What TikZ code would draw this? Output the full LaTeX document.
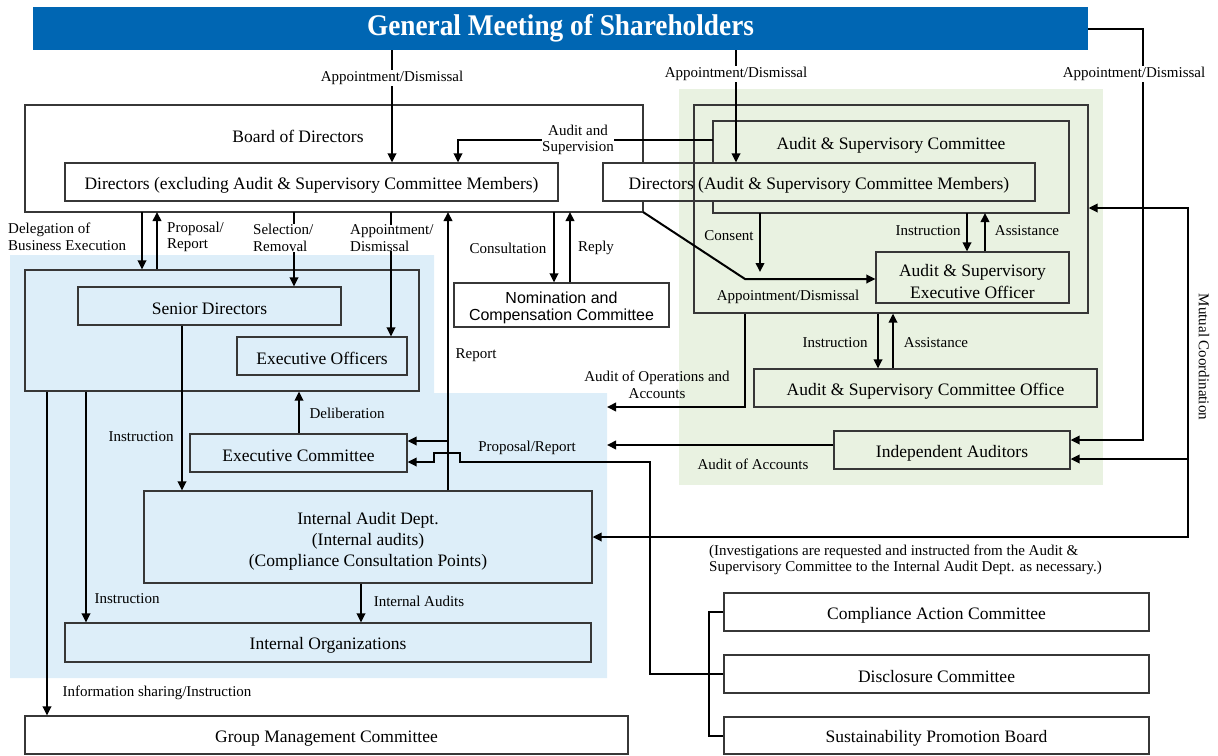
\documentclass[tikz,border=0pt]{standalone}
\usepackage{fontspec}
\setmainfont{Liberation Serif}
\newfontfamily\ncsans{Liberation Sans}
\usetikzlibrary{arrows.meta}
\definecolor{titleblue}{RGB}{0,102,179}
\definecolor{bgblue}{RGB}{221,238,249}
\definecolor{bggreen}{RGB}{233,242,225}
\definecolor{boxc}{RGB}{55,55,55}
\begin{document}
\begin{tikzpicture}[x=1pt,y=-1pt,
 box/.style={draw=boxc,line width=1.2pt,inner sep=0pt,font=\fontsize{17.5}{21}\selectfont,align=center,execute at begin node={\rule{0pt}{18pt}}},
 frame/.style={inner sep=0pt,outer sep=0pt},
 edge/.style={draw=boxc,line width=1.2pt},
 wire/.style={line width=2pt},
 conn/.style={line width=2pt,-{Triangle[length=9pt,width=8.5pt]}},
 bconn/.style={line width=2pt,{Triangle[length=9pt,width=8.5pt]}-{Triangle[length=9pt,width=8.5pt]}},
 lbl/.style={font=\fontsize{15}{16.5}\selectfont,inner sep=1.5pt,align=center},
 wlbl/.style={lbl,fill=white},
 btxt/.style={font=\fontsize{17.5}{21}\selectfont,align=center,inner sep=0pt},
]
\useasboundingbox (0,0) rectangle (1218,755);
% backgrounds
\fill[bggreen] (679,89) rectangle (1103,485);
\fill[bgblue] (10,255) -- (434,255) -- (434,393) -- (607,393) -- (607,678) -- (10,678) -- cycle;

% title
\node[fill=titleblue,minimum width=1055pt,minimum height=43pt,inner sep=0pt,text=white,font=\fontsize{30}{32}\selectfont\bfseries] (gm) at (560.5,28.5) {\scalebox{0.91}[1]{General Meeting of Shareholders}};

% board of directors
\node[frame,minimum width=618pt,minimum height=107pt] (board) at (334,158.5) {};
\node[btxt] (boardlbl) at (298,136) {Board of Directors};
\node[box,minimum width=493pt,minimum height=38pt] (dx) at (311.5,182) {Directors (excluding Audit \& Supervisory Committee Members)};
\node[box,minimum width=432pt,minimum height=38pt] (dasc) at (819,182) {Directors (Audit \& Supervisory Committee Members)};
\draw[edge] (board.east |- dasc.north) -- (board.north east) -- (board.north west) -- (board.south west) -- (board.south east) -- (board.east |- dasc.south);

% audit & supervisory committee
\node[box,minimum width=394pt,minimum height=208pt] (asco) at (891,209) {};
\node[frame,minimum width=356pt,minimum height=92pt] (ascc) at (891,167) {};
\draw[edge] (ascc.west |- dasc.north) -- (ascc.north west) -- (ascc.north east) -- (ascc.south east) -- (ascc.south west) -- (ascc.west |- dasc.south);
\node[btxt] (ascclbl) at (891,143) {\rule{0pt}{16pt}Audit \& Supervisory Committee};
\node[box,minimum width=193pt,minimum height=51pt,font=\fontsize{17.5}{22}\selectfont] (aseo) at (972.5,277.5) {\rule{0pt}{20pt}Audit \& Supervisory\\Executive Officer};
\node[box,minimum width=343pt,minimum height=38pt] (asoff) at (925.5,388) {Audit \& Supervisory Committee Office};
\node[box,minimum width=236pt,minimum height=38pt] (ia) at (952,450) {Independent Auditors};

% nomination
\node[box,minimum width=215pt,minimum height=44pt,font=\ncsans\fontsize{16}{16.5}\selectfont] (ncc) at (561.5,305) {\rule{0pt}{17.5pt}Nomination and\\Compensation Committee};

% execution side
\node[box,minimum width=394pt,minimum height=121pt] (exo) at (222,330.5) {};
\node[box,minimum width=263pt,minimum height=38pt] (sd) at (209.5,306) {Senior Directors};
\node[box,minimum width=170pt,minimum height=38pt] (eo) at (322,356) {Executive Officers};
\node[box,minimum width=217pt,minimum height=38pt] (ec) at (298.5,453) {Executive Committee};
\node[box,minimum width=448pt,minimum height=92pt] (iad) at (368,537) {\rule{0pt}{20pt}Internal Audit Dept.\\(Internal audits)\\(Compliance Consultation Points)};
\node[box,minimum width=526pt,minimum height=39pt] (io) at (328,642.5) {Internal Organizations};
\node[box,minimum width=603pt,minimum height=38pt] (gmc) at (326.5,735) {Group Management Committee};

% committees
\node[box,minimum width=425pt,minimum height=38pt] (cac) at (936.5,612) {Compliance Action Committee};
\node[box,minimum width=425pt,minimum height=38pt] (dc) at (936.5,674) {Disclosure Committee};
\node[box,minimum width=425pt,minimum height=37pt] (spb) at (936.5,735.5) {Sustainability Promotion Board};

% coordinates for free ends
\coordinate (consentend) at (760,272);
\coordinate (opsend) at (607,407);
\coordinate (accend) at (607,445);
\coordinate (repbr) at (448,441);

% connectors from the general meeting
\draw[conn] (gm.south -| 392,0) -- (dx.north -| 392,0);
\draw[conn] (gm.south -| 736,0) -- (dasc.north -| 736,0);
\draw[conn] (gm.east) -| (1143,440) -- (ia.east |- 0,440);

% audit and supervision
\draw[conn] (ascc.west |- 0,140) -- (458,140) -- (dx.north -| 458,0);
\draw[conn] (ascc.south -| consentend) -- (consentend);
\draw[conn] (board.south east) -- (745,279) -- (aseo.west |- 0,279);
\draw[conn] (ascc.south -| 967,0) -- (aseo.north -| 967,0);
\draw[conn] (aseo.north -| 985,0) -- (ascc.south -| 985,0);
\draw[conn] (asco.south -| 878,0) -- (asoff.north -| 878,0);
\draw[conn] (asoff.north -| 893,0) -- (asco.south -| 893,0);
\draw[conn] (asco.south -| 745,0) |- (opsend);
\draw[conn] (ia.west |- accend) -- (accend);

% mutual coordination
\draw[bconn] (asco.east |- 0,208) -- (1188,208) -- (1188,537) -- (iad.east |- 0,537);
\draw[conn] (1188,459) -- (ia.east |- 0,459);

% nomination
\draw[conn] (board.south -| 554,0) -- (ncc.north -| 554,0);
\draw[conn] (ncc.north -| 570,0) -- (board.south -| 570,0);

% report
\draw[conn] (iad.north -| repbr) -- (board.south -| repbr);
\draw[conn] (repbr) -- (ec.east |- repbr);
\draw[conn] (dc.west) -- (650,674) -- (650,462) -- (460,462) -- (460,453) -- (434,453) -- (434,462) -- (ec.east |- 0,462);

% bracket
\draw[wire] (cac.west) -- (709,612) -- (709,735.5) -- (spb.west);

% execution side connectors
\draw[conn] (board.south -| 142,0) -- (exo.north -| 142,0);
\draw[conn] (exo.north -| 157,0) -- (board.south -| 157,0);
\draw[conn] (board.south -| 294,0) -- (sd.north -| 294,0);
\draw[conn] (board.south -| 391,0) -- (eo.north -| 391,0);
\draw[conn] (ec.north -| 299,0) -- (exo.south -| 299,0);
\draw[conn] (sd.south -| 182,0) -- (iad.north -| 182,0);
\draw[conn] (iad.south -| 361,0) -- (io.north -| 361,0);
\draw[conn] (exo.south -| 86,0) -- (io.north -| 86,0);
\draw[conn] (exo.south -| 47,0) -- (gmc.north -| 47,0);

% labels
\node[wlbl] (l1) at (392,78) {Appointment/Dismissal};
\node[wlbl] (l2) at (736,74) {Appointment/Dismissal};
\node[wlbl] (l3) at (1134,74) {Appointment/Dismissal};
\node[wlbl,inner sep=0pt] (l4) at (578,140) {Audit and\\Supervision};
\node[lbl] (l5) at (729,236) {Consent};
\node[lbl] (l6) at (928,231) {Instruction};
\node[lbl] (l7) at (1027,231) {Assistance};
\node[lbl] (l8) at (788,297) {Appointment/Dismissal};
\node[lbl] (l9) at (835,343) {Instruction};
\node[lbl] (l10) at (936,343) {Assistance};
\node[lbl] (l11) at (657,385) {Audit of Operations and\\Accounts};
\node[lbl] (l12) at (753,464) {Audit of Accounts};
\node[lbl,rotate=-90] (l13) at (1204,357) {Mutual Coordination};
\node[lbl] (l14) at (508,248) {Consultation};
\node[lbl] (l15) at (596,248) {Reply};
\node[lbl] (l16) at (476,355) {Report};
\node[lbl,anchor=west,align=left,inner sep=0pt] (l17) at (8,237) {Delegation of\\Business Execution};
\node[lbl,anchor=west,align=left,inner sep=0pt] (l18) at (167,237) {Proposal/\\Report};
\node[wlbl,anchor=west,align=left,inner sep=0pt] (l19) at (253,238) {Selection/\\Removal};
\node[wlbl,anchor=west,align=left,inner sep=0pt] (l20) at (350,238) {Appointment/\\Dismissal};
\node[lbl] (l21) at (347,413) {Deliberation};
\node[lbl] (l22) at (141,437) {Instruction};
\node[lbl] (l23) at (527,448) {Proposal/Report};
\node[lbl] (l24) at (419,601) {Internal Audits};
\node[lbl] (l25) at (127,599) {Instruction};
\node[lbl,anchor=west] (l26) at (61,693) {Information sharing/Instruction};
\node[lbl,anchor=west,align=left,inner sep=0pt] (l27) at (709,560) {(Investigations are requested and instructed from the Audit \&\\Supervisory Committee to the Internal Audit Dept. as necessary.)};
\end{tikzpicture}
\end{document}
